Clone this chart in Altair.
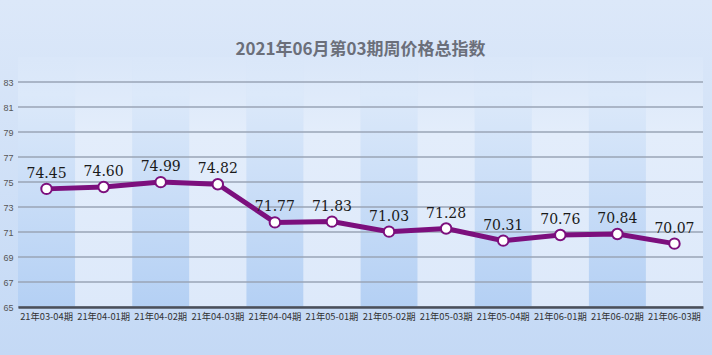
import altair as alt
import pandas as pd

periods = ["21年03-04期", "21年04-01期", "21年04-02期", "21年04-03期", "21年04-04期",
           "21年05-01期", "21年05-02期", "21年05-03期", "21年05-04期", "21年06-01期",
           "21年06-02期", "21年06-03期"]
values = [74.45, 74.60, 74.99, 74.82, 71.77, 71.83, 71.03, 71.28, 70.31, 70.76, 70.84, 70.07]
y_ticks = [65, 67, 69, 71, 73, 75, 77, 79, 81, 83]
title_text = "2021年06月第03期周价格总指数"

df = pd.DataFrame({
    "period": periods,
    "value": values,
    "label": [f"{v:.2f}" for v in values],
    "idx": list(range(len(periods))),
    "lo": [65] * len(periods),
    "hi": [85] * len(periods),
})

xscale = alt.Scale(domain=periods, paddingInner=0, paddingOuter=0)
yscale = alt.Scale(domain=[65, 85], nice=False, zero=False)

dark_grad = alt.Gradient(gradient="linear", x1=0, y1=0, x2=0, y2=1,
                         stops=[alt.GradientStop(color="#dae7f9", offset=0),
                                alt.GradientStop(color="#dce9fa", offset=0.15),
                                alt.GradientStop(color="#b4d0f4", offset=1)])
light_grad = alt.Gradient(gradient="linear", x1=0, y1=0, x2=0, y2=1,
                          stops=[alt.GradientStop(color="#dae7f9", offset=0),
                                 alt.GradientStop(color="#e3edfb", offset=0.3),
                                 alt.GradientStop(color="#dde9fa", offset=1)])
bg_grad = alt.Gradient(gradient="linear", x1=0, y1=0, x2=0, y2=1,
                       stops=[alt.GradientStop(color="#dce8f9", offset=0),
                              alt.GradientStop(color="#c4d9f5", offset=1)])

yaxis = alt.Axis(title=None, values=y_ticks, ticks=False, domain=False,
                 grid=False, labelOverlap=False,
                 labelFont="Liberation Sans", labelFontSize=9,
                 labelColor="#555555", labelPadding=5, zindex=2)

base = alt.Chart(df)

bg = base.mark_rect(fill=bg_grad, clip=False).encode(
    x=alt.value(-18), x2=alt.value(694), y=alt.value(-57), y2=alt.value(298)
).transform_filter("datum.idx == 0")

bands_dark = base.mark_rect(fill=dark_grad).encode(
    x=alt.X("period:N", scale=xscale, sort=periods,
            axis=alt.Axis(title=None, labelAngle=0, ticks=False, domain=True,
                          domainColor="#4a4f5a", domainWidth=2.5,
                          labelFont="Noto Sans CJK SC", labelFontSize=9.3,
                          labelColor="#333333", labelPadding=5, zindex=2)),
    y=alt.Y("lo:Q", scale=yscale, axis=yaxis),
    y2="hi:Q",
).transform_filter("datum.idx % 2 == 0")

bands_light = base.mark_rect(fill=light_grad).encode(
    x=alt.X("period:N", scale=xscale, sort=periods),
    y=alt.Y("lo:Q", scale=yscale, axis=yaxis),
    y2="hi:Q",
).transform_filter("datum.idx % 2 == 1")

grid = alt.Chart(pd.DataFrame({"t": y_ticks})).mark_rule(color="#9aa4b6", strokeWidth=1.3).encode(
    y=alt.Y("t:Q", scale=yscale, axis=yaxis)
)

line = base.mark_line(color="#7c0f7d", strokeWidth=5).encode(
    x=alt.X("period:N", scale=xscale, sort=periods),
    y=alt.Y("value:Q", scale=yscale, axis=yaxis),
)

points = base.mark_point(filled=True, fill="white", stroke="#7c0f7d", strokeWidth=2,
                         size=110, opacity=1, shape="circle").encode(
    x=alt.X("period:N", scale=xscale, sort=periods),
    y=alt.Y("value:Q", scale=yscale, axis=yaxis),
)

labels = base.mark_text(font="DejaVu Serif", fontSize=14, color="#1a1a1a",
                        baseline="bottom", dy=-8).encode(
    x=alt.X("period:N", scale=xscale, sort=periods),
    y=alt.Y("value:Q", scale=yscale, axis=yaxis),
    text="label:N",
)

chart = alt.layer(bg, bands_dark, bands_light, grid, line, points, labels).properties(
    width=685, height=250,
    padding={"left": 18, "top": 57, "right": 9, "bottom": 48},
    autosize=alt.AutoSizeParams(type="none"),
    title=alt.Title(title_text, font="Noto Sans CJK SC", fontSize=17, fontWeight="bold",
                    color="#6b6f7a", offset=0, dy=59, anchor="middle", frame="group"),
    background="#d6e4f8",
).configure_view(stroke=None).configure_axisY(labelOverlap=False)

chart.save("out.html", embed_options={"renderer": "svg", "actions": False})
